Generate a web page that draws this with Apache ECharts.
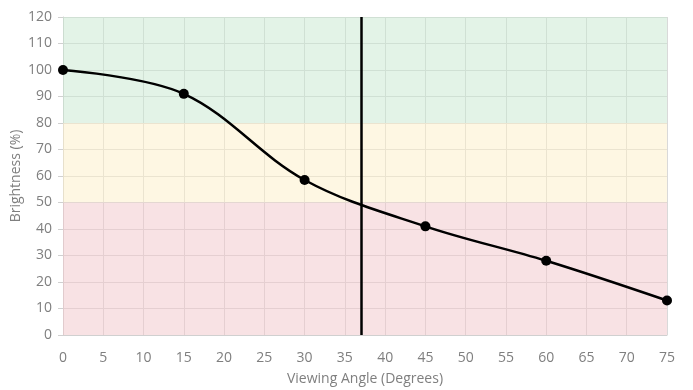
<!DOCTYPE html>
<html><head><meta charset="utf-8">
<script src="https://cdn.jsdelivr.net/npm/echarts@6/dist/echarts.min.js"></script>
<style>html,body{margin:0;padding:0;background:#fff}#c{width:693px;height:390px}</style>
</head><body><div id="c"></div>
<script>
const angles = [0, 15, 30, 45, 60, 75];
const brightness = [100, 91, 58.5, 41, 28, 13];
const markerAngle = 37;
const bands = [[80, 120], [50, 80], [0, 50]];
const bandColors = ['rgba(199,231,207,0.5)', 'rgba(253,239,199,0.5)', 'rgba(241,197,201,0.5)'];
const txt = '#7f7f7f';
const font = 'Open Sans';
const chart = echarts.init(document.getElementById('c'));
chart.setOption({
  animation: false,
  grid: { left: 63, right: 26, top: 17, bottom: 55, outerBoundsMode: 'none', containLabel: false },
  xAxis: {
    type: 'value', min: 0, max: 75, interval: 5,
    name: 'Viewing Angle (Degrees)', nameLocation: 'middle', nameGap: 37,
    nameTextStyle: { color: txt, fontSize: 14, fontFamily: font },
    axisLine: { show: true, lineStyle: { color: '#d0d0d0' } },
    axisTick: { show: false },
    axisLabel: { color: txt, fontSize: 14, fontFamily: font, margin: 16 },
    splitLine: { show: true, lineStyle: { color: '#d9d9d9', width: 1 } }
  },
  yAxis: {
    type: 'value', min: 0, max: 120, interval: 10,
    name: 'Brightness (%)', nameLocation: 'middle', nameGap: 40, nameMoveOverlap: false,
    nameTextStyle: { color: txt, fontSize: 14, fontFamily: font },
    axisLine: { show: true, lineStyle: { color: '#d0d0d0' } },
    axisTick: { show: true, length: 5, lineStyle: { color: '#d0d0d0' } },
    axisLabel: { color: txt, fontSize: 14, fontFamily: font, margin: 11 },
    splitLine: { show: true, lineStyle: { color: '#d9d9d9', width: 1 } }
  },
  series: [{
    type: 'line',
    data: angles.map((a, i) => [a, brightness[i]]),
    smooth: 0.35,
    symbol: 'circle', symbolSize: 10,
    lineStyle: { color: '#000', width: 2.5 },
    itemStyle: { color: '#000' },
    markArea: {
      silent: true,
      data: bands.map((b, i) => [{ yAxis: b[0], itemStyle: { color: bandColors[i] } }, { yAxis: b[1] }])
    },
    markLine: {
      silent: true, symbol: 'none', label: { show: false },
      lineStyle: { color: '#000', width: 2.5, type: 'solid' },
      data: [{ xAxis: markerAngle }]
    }
  }]
});
</script></body></html>
